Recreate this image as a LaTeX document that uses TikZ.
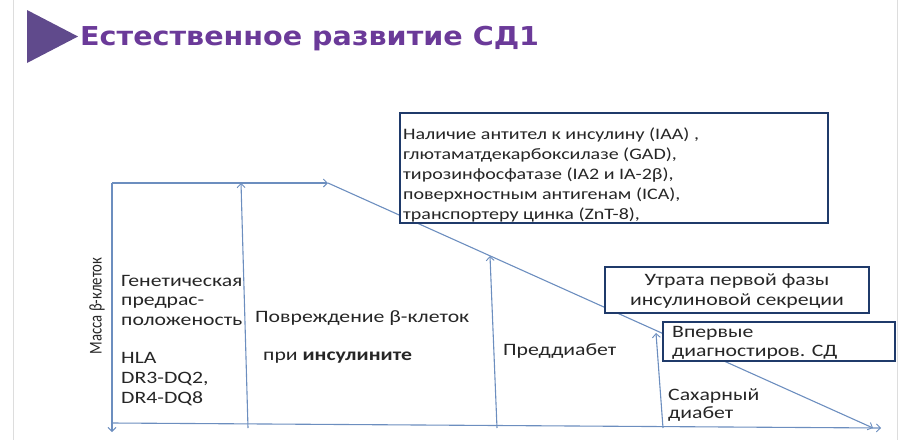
\documentclass[tikz,border=0pt]{standalone}
\usepackage{fontspec}
\setmainfont{Carlito}
\newfontfamily\bodyf[FakeStretch=1.25]{Carlito}
\newfontfamily\ylabf[FakeStretch=0.82]{Carlito}
\newfontfamily\titlef[FakeStretch=1.1]{DejaVu Sans}
\usetikzlibrary{arrows.meta}
\definecolor{linec}{HTML}{6C8EBF}
\definecolor{boxc}{HTML}{1F3A6A}
\definecolor{titlec}{HTML}{6B3A99}
\definecolor{tric}{HTML}{604A8C}
\definecolor{textc}{HTML}{262626}
\definecolor{framec}{HTML}{DDDDDD}
\tikzset{
  axis/.style={draw=linec, line width=1.1pt, -{Straight Barb[length=4pt,width=8pt,line width=0.9pt]}},
  boxr/.style={draw=boxc, line width=1.6pt, fill=white, inner sep=0pt, anchor=north west},
  txt/.style={font=\bodyf\fontsize{17.4}{20}\selectfont, anchor=base west, inner sep=0pt, text=textc},
  btxt/.style={txt, font=\bodyf\fontsize{16}{19}\selectfont},
  ctxt/.style={txt, anchor=base},
}
\begin{document}
\begin{tikzpicture}[x=1pt,y=-1pt]
\path[use as bounding box] (0,0) rectangle (900,440);
% faint slide frame
\draw[framec, line width=0.8pt] (13,0) -- (13,440);
\draw[framec, line width=0.8pt] (897,0) -- (897,440);
% title
\fill[tric] (27,10) -- (78,36.5) -- (27,63) -- cycle;
\node[font=\titlef\bfseries\fontsize{26}{30}\selectfont, text=titlec, anchor=base west, inner sep=0pt] (title) at (80,45) {Естественное развитие СД1};
% coordinates
\coordinate (o) at (112,183);
\coordinate (yb) at (112,432);
\coordinate (t1) at (328,183);
\coordinate (d1) at (873,428);
\coordinate (xb0) at (112,423);
\coordinate (xb1) at (881,428);
\coordinate (a1b) at (248,428); \coordinate (a1t) at (241,183);
\coordinate (a2b) at (497,428); \coordinate (a2t) at (490,256);
\coordinate (a3b) at (663,428); \coordinate (a3t) at (656,333);
% axes and lines
\draw[axis] (o) -- (yb);
\draw[axis] (o) -- (t1);
\draw[axis] (t1) -- (d1);
\draw[axis] (xb0) -- (xb1);
\draw[axis] (a1b) -- (a1t);
\draw[axis] (a2b) -- (a2t);
\draw[axis] (a3b) -- (a3t);
% y label
\node[rotate=90, font=\ylabf\fontsize{18}{20}\selectfont, text=textc, inner sep=0pt] (ylab) at (97,306) {Масса β-клеток};
% left column
\node[txt] (g1) at (121,286) {Генетическая};
\node[txt] (g2) at (121,305.5) {предрас-};
\node[txt] (g3) at (121,325) {положеность};
\node[txt] (g4) at (121,363.5) {HLA};
\node[txt] (g5) at (121,383) {DR3-DQ2,};
\node[txt] (g6) at (121,403) {DR4-DQ8};
% middle
\node[txt] (p1) at (255,322.5) {Повреждение β-клеток};
\node[txt] (p2) at (263,360.5) {при \textbf{инсулините}};
\node[txt] (pd) at (503,355.5) {Преддиабет};
\node[txt] (s1) at (668,400) {Сахарный};
\node[txt] (s2) at (668,418.5) {диабет};
% box 1
\node[boxr, minimum width=428pt, minimum height=110pt] (b1) at (399,112) {};
\node[btxt] (b1l1) at (403,139) {Наличие антител к инсулину (IAA) ,};
\node[btxt] (b1l2) at (403,159) {глютаматдекарбоксилазе (GAD),};
\node[btxt] (b1l3) at (403,179) {тирозинфосфатазе (IA2 и IA-2β),};
\node[btxt] (b1l4) at (403,199.5) {поверхностным антигенам (ICA),};
\node[btxt] (b1l5) at (403,219.5) {транспортеру цинка (ZnT-8),};
% box 2
\node[boxr, minimum width=264pt, minimum height=46pt] (b2) at (604,266) {};
\node[ctxt] (b2l1) at (737,285.5) {Утрата первой фазы};
\node[ctxt] (b2l2) at (737,305) {инсулиновой секреции};
% box 3
\node[boxr, minimum width=232pt, minimum height=39pt] (b3) at (662,321) {};
\node[txt] (b3l1) at (672,337.5) {Впервые};
\node[txt] (b3l2) at (672,356.5) {диагностиров. СД};
\end{tikzpicture}
\end{document}
